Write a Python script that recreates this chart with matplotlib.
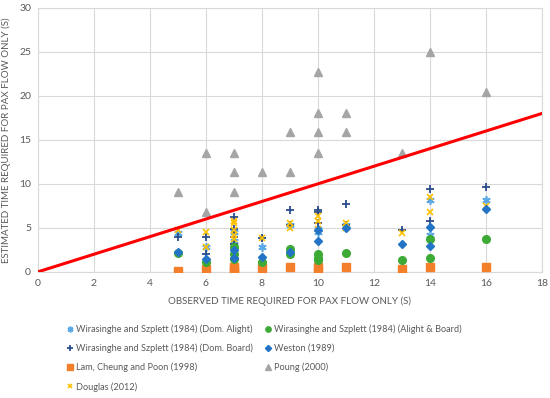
"""
Estimated vs observed pax-flow time, several published models, with y = x reference line.
"""
import matplotlib
matplotlib.use("Agg")
import matplotlib.pyplot as plt

plt.rcParams["font.family"] = ["Lato", "DejaVu Sans"]

# Wirasinghe and Szplett (1984) (Dom. Alight)
alight_x = [5, 6, 7, 7, 7, 8, 9, 10, 10, 11, 14, 14, 16]
alight_y = [4.4, 2.8, 4.5, 3.5, 2.9, 2.8, 5.3, 4.9, 4.5, 5.3, 8.2, 4.2, 8.2]

# Wirasinghe and Szplett (1984) (Dom. Board)
board_x = [5, 6, 6, 7, 7, 7, 7, 8, 9, 9, 10, 10, 10, 11, 11, 13, 14, 14, 16]
board_y = [4.0, 4.0, 2.0, 6.2, 4.9, 4.0, 3.2, 3.9, 7.0, 5.3, 7.0, 6.8, 5.5, 7.7, 5.3, 4.7, 9.4, 5.8, 9.7]

# Lam, Cheung and Poon (1998)
lam_x = [5, 6, 7, 7, 7, 8, 9, 10, 10, 11, 13, 14, 16]
lam_y = [0.1, 0.3, 0.0, 0.3, 0.6, 0.4, 0.5, 0.5, 0.1, 0.6, 0.3, 0.6, 0.6]

# Douglas (2012)
douglas_x = [5, 6, 6, 7, 7, 7, 7, 7, 8, 9, 9, 10, 10, 10, 11, 11, 13, 14, 14, 16]
douglas_y = [4.8, 4.5, 2.8, 5.8, 5.5, 4.7, 4.2, 3.7, 3.9, 5.5, 5.0, 6.3, 5.8, 4.9, 5.5, 5.0, 4.4, 8.5, 6.8, 7.5]

# Wirasinghe and Szplett (1984) (Alight & Board)
both_x = [5, 6, 7, 7, 7, 8, 9, 9, 10, 10, 10, 11, 13, 14, 14, 16]
both_y = [2.1, 1.1, 2.8, 2.0, 1.5, 1.1, 2.6, 2.0, 2.0, 1.6, 1.4, 2.1, 1.3, 3.7, 1.6, 3.7]

# Weston (1989)
weston_x = [5, 6, 7, 7, 8, 9, 10, 10, 11, 13, 14, 14, 16]
weston_y = [2.2, 1.5, 2.5, 1.6, 1.7, 2.3, 4.7, 3.5, 5.0, 3.2, 5.1, 2.9, 7.2]

# Poung (2000)
poung_x = [5, 6, 6, 7, 7, 7, 8, 9, 9, 10, 10, 10, 10, 11, 11, 13, 14, 16]
poung_y = [9.1, 13.5, 6.8, 13.5, 11.4, 9.1, 11.4, 15.9, 11.4, 22.7, 18.1, 15.9, 13.5, 18.1, 15.9, 13.5, 25.0, 20.4]

line_x = [0, 18]
line_y = [0, 18]

fig = plt.figure(figsize=(5.5, 3.98), dpi=100)
ax = fig.add_axes([0.069, 0.317, 0.916, 0.663])

ax.plot(alight_x, alight_y, ls="none", marker=(6, 2, 0), ms=6, mew=1.2, color="#5AA9E6",
        label="Wirasinghe and Szplett (1984) (Dom. Alight)", zorder=3)
ax.plot(board_x, board_y, ls="none", marker="+", ms=6, mew=1.3, color="#2B4C8C",
        label="Wirasinghe and Szplett (1984) (Dom. Board)", zorder=3)
ax.plot(lam_x, lam_y, ls="none", marker="s", ms=5.5, color="#F47F2A",
        label="Lam, Cheung and Poon (1998)", zorder=3)
ax.plot(douglas_x, douglas_y, ls="none", marker="x", ms=5, mew=1.2, color="#FFC000",
        label="Douglas (2012)", zorder=3)
ax.plot(both_x, both_y, ls="none", marker="o", ms=5.5, color="#3DAA35",
        label="Wirasinghe and Szplett (1984) (Alight & Board)", zorder=3)
ax.plot(weston_x, weston_y, ls="none", marker="D", ms=4.5, color="#2374C6",
        label="Weston (1989)", zorder=3)
ax.plot(poung_x, poung_y, ls="none", marker="^", ms=5.5, color="#A5A5A5",
        label="Poung (2000)", zorder=3)
ax.plot(line_x, line_y, color="#FF0000", lw=2.2, zorder=4)

ax.set_xlim(0, 18)
ax.set_ylim(0, 30)
ax.set_xticks(range(0, 19, 2))
ax.set_yticks(range(0, 31, 5))
ax.grid(color="#D9D9D9", lw=0.8)
ax.set_axisbelow(True)
for s in ax.spines.values():
    s.set_color("#D9D9D9")
ax.tick_params(length=0, labelsize=7.5, labelcolor="#595959", pad=5)

ax.set_xlabel("OBSERVED TIME REQUIRED FOR PAX FLOW ONLY (S)", fontsize=7, color="#595959", labelpad=6)
ax.set_ylabel("ESTIMATED TIME REQUIRED FOR PAX FLOW ONLY (S)", fontsize=7, color="#595959", labelpad=6)

leg = ax.legend(loc="upper left", bbox_to_anchor=(0.058, -0.2), ncol=2, frameon=False,
                fontsize=6.6, markerscale=0.7, handlelength=0.6, handletextpad=0.35,
                columnspacing=1.4, labelspacing=1.05, borderaxespad=0, borderpad=0)
for t in leg.get_texts():
    t.set_color("#595959")

fig.savefig("out.png", dpi=100, facecolor="white")
plt.close(fig)
